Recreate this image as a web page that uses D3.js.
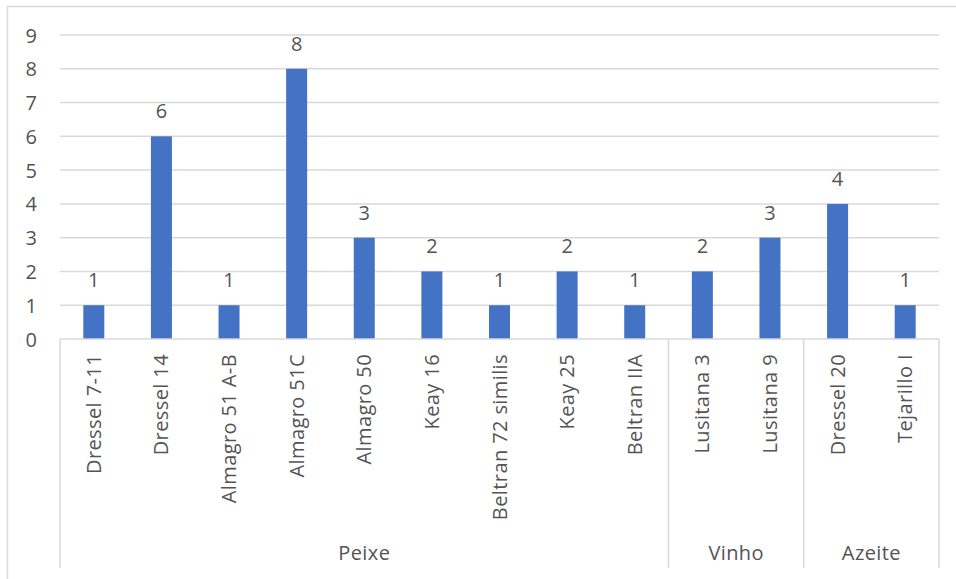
<!DOCTYPE html>
<html><head><meta charset="utf-8">
<script src="https://cdn.jsdelivr.net/npm/d3@7"></script>
<style>body{margin:0;background:#fff}svg{display:block}text{font-family:"Open Sans",sans-serif;fill:#545454}</style>
</head><body>
<script>
const categories = ["Dressel 7-11","Dressel 14","Almagro 51 A-B","Almagro 51C","Almagro 50","Keay 16","Beltran 72 similis","Keay 25","Beltran IIA","Lusitana 3","Lusitana 9","Dressel 20","Tejarillo I"];
const values = [1,6,1,8,3,2,1,2,1,2,3,4,1];
const groupNames = ["Peixe","Vinho","Azeite"];
const groupSizes = [9,2,2];
const yTicks = [0,1,2,3,4,5,6,7,8,9];

const W=956,H=579;
const svg=d3.select("body").append("svg").attr("width",W).attr("height",H);
svg.append("rect").attr("x",7.5).attr("y",6.5).attr("width",1000).attr("height",1000).attr("fill","none").attr("stroke","#d9d9d9").attr("stroke-width",1.5);

const L=60,R=939,T=35,B=339,Bot=568;
const x=d3.scaleBand().domain(categories).range([L,R]).padding(0);
const y=d3.scaleLinear().domain([0,9]).range([B,T]);

// gridlines
svg.append("g").selectAll("line").data(yTicks.filter(d=>d>0)).join("line")
  .attr("x1",L).attr("x2",R).attr("y1",d=>y(d)).attr("y2",d=>y(d))
  .attr("stroke","#d9d9d9").attr("stroke-width",1.5);
// y labels
const yAxis=d3.axisLeft(y).tickValues(yTicks).tickSize(0).tickPadding(0);
const ya=svg.append("g").attr("transform",`translate(37,0)`).call(yAxis);
ya.select(".domain").remove();
ya.selectAll("text").attr("font-size",20).attr("fill","#545454").attr("font-family","Open Sans").attr("dy","0.35em");

// bars
const bw=21;
svg.append("g").selectAll("rect").data(values).join("rect")
  .attr("x",(d,i)=>x(categories[i])+x.bandwidth()/2-bw/2)
  .attr("width",bw)
  .attr("y",d=>y(d)).attr("height",d=>B-y(d)).attr("fill","#4472c4");
// data labels
svg.append("g").selectAll("text").data(values).join("text")
  .attr("x",(d,i)=>x(categories[i])+x.bandwidth()/2)
  .attr("y",d=>y(d)-18).attr("text-anchor","middle").attr("font-size",20).text(d=>d);

// axis line
svg.append("line").attr("x1",L).attr("x2",R).attr("y1",B).attr("y2",B).attr("stroke","#d9d9d9").attr("stroke-width",1.5);

// group separators
let idx=0; const bounds=[0];
groupSizes.forEach(s=>{idx+=s;bounds.push(idx);});
svg.append("g").selectAll("line").data(bounds).join("line")
  .attr("x1",d=>d<categories.length?x(categories[d]):R).attr("x2",d=>d<categories.length?x(categories[d]):R)
  .attr("y1",B).attr("y2",Bot).attr("stroke","#d9d9d9").attr("stroke-width",1.5);

// category labels
svg.append("g").selectAll("text").data(categories).join("text")
  .attr("transform",d=>`translate(${x(d)+x.bandwidth()/2},354) rotate(-90)`)
  .attr("text-anchor","end").attr("dy","0.35em").attr("font-size",20).attr("letter-spacing","0.4px").text(d=>d);

// group labels
svg.append("g").selectAll("text").data(groupNames).join("text")
  .attr("x",(d,i)=>{const a=x(categories[bounds[i]]);const b=bounds[i+1]<categories.length?x(categories[bounds[i+1]]):R;return (a+b)/2;})
  .attr("y",560).attr("text-anchor","middle").attr("font-size",20).attr("letter-spacing","0.4px").text(d=>d);
</script>
</body></html>
